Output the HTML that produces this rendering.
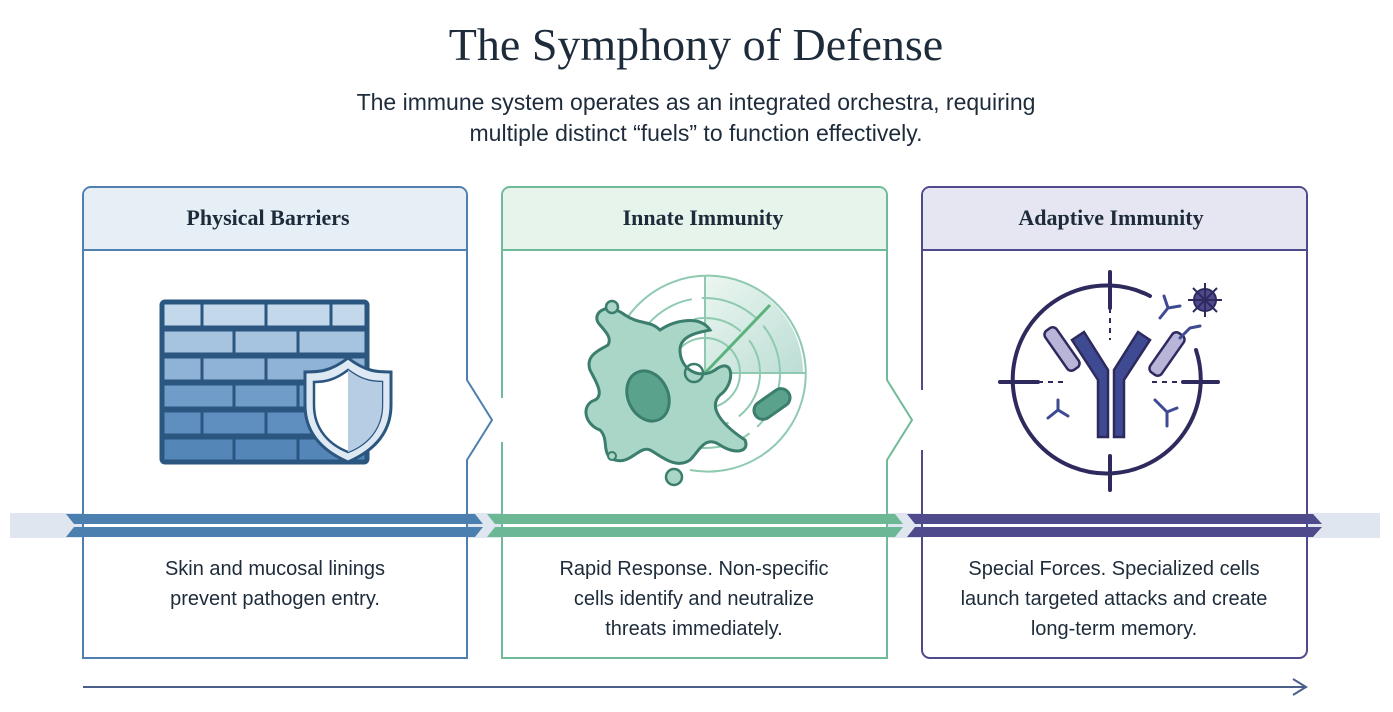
<!DOCTYPE html>
<html><head><meta charset="utf-8"><style>
body{margin:0;width:1393px;height:707px;background:#fff;overflow:hidden;font-family:"Liberation Sans",sans-serif}
</style></head><body>
<svg width="1393" height="707" xmlns="http://www.w3.org/2000/svg">
<text x="696" y="60" text-anchor="middle" font-family="Liberation Serif,serif" font-size="46" fill="#1d2b3a">The Symphony of Defense</text>
<text x="696" y="110" text-anchor="middle" font-size="23" fill="#1d2b3a">The immune system operates as an integrated orchestra, requiring</text>
<text x="696" y="141" text-anchor="middle" font-size="23" fill="#1d2b3a">multiple distinct “fuels” to function effectively.</text>

<!-- band background -->
<rect x="10" y="513" width="1370" height="25" fill="#dfe6ef"/>

<!-- Panel 1 -->
<path d="M83,658 V195 a8,8 0 0 1 8,-8 H459 a8,8 0 0 1 8,8 V380 L492,420 L467,460 V658 Z" fill="#fff" stroke="#4f7fae" stroke-width="2"/>
<path d="M84,250 V195 a7,7 0 0 1 7,-7 H459 a7,7 0 0 1 7,7 V250Z" fill="#e6eef6"/>
<line x1="83" y1="250" x2="467" y2="250" stroke="#4f7fae" stroke-width="2"/>
<text x="268" y="225" text-anchor="middle" font-family="Liberation Serif,serif" font-weight="bold" font-size="22" fill="#1d2b3a">Physical Barriers</text>
<!-- Panel 2 -->
<path d="M502,658 V195 a8,8 0 0 1 8,-8 H879 a8,8 0 0 1 8,8 V380 L912,420 L887,460 V658 Z" fill="#fff" stroke="#6fba98" stroke-width="2"/>
<path d="M503,250 V195 a7,7 0 0 1 7,-7 H879 a7,7 0 0 1 7,7 V250Z" fill="#e6f4ec"/>
<line x1="502" y1="250" x2="887" y2="250" stroke="#6fba98" stroke-width="2"/>
<text x="703" y="225" text-anchor="middle" font-family="Liberation Serif,serif" font-weight="bold" font-size="22" fill="#1d2b3a">Innate Immunity</text>
<line x1="502" y1="380" x2="502" y2="460" stroke="#fff" stroke-width="4"/>
<line x1="502" y1="380" x2="502" y2="398" stroke="#6fba98" stroke-width="2"/>
<line x1="502" y1="442" x2="502" y2="460" stroke="#6fba98" stroke-width="2"/>
<!-- Panel 3 -->
<rect x="922" y="187" width="385" height="471" rx="8" fill="#fff" stroke="#4f4a8c" stroke-width="2"/>
<path d="M923,250 V195 a7,7 0 0 1 7,-7 H1299 a7,7 0 0 1 7,7 V250Z" fill="#e6e5f2"/>
<line x1="922" y1="250" x2="1307" y2="250" stroke="#4f4a8c" stroke-width="2"/>
<text x="1111" y="225" text-anchor="middle" font-family="Liberation Serif,serif" font-weight="bold" font-size="22" fill="#1d2b3a">Adaptive Immunity</text>
<line x1="922" y1="390" x2="922" y2="450" stroke="#fff" stroke-width="4"/>

<!-- band stripes -->
<g>
<polygon points="66,514 475,514 483,524 74,524" fill="#4a7fb0"/>
<polygon points="74,527 483,527 475,537 66,537" fill="#4a7fb0"/>
<polygon points="487,514 895,514 903,524 495,524" fill="#6cb894"/>
<polygon points="495,527 903,527 895,537 487,537" fill="#6cb894"/>
<polygon points="907,514 1313,514 1322,524 915,524" fill="#4f4a8c"/>
<polygon points="915,527 1322,527 1313,537 907,537" fill="#4f4a8c"/>
</g>

<!-- brick wall -->
<g stroke="#2a5680" stroke-width="3">
<rect x="161" y="301" width="207" height="162" rx="4" fill="#5a8dbd"/>
<rect x="163" y="303" width="203" height="24" fill="#c4d8ec"/>
<rect x="163" y="330" width="203" height="24" fill="#a6c3df"/>
<rect x="163" y="357" width="203" height="24" fill="#8fb3d6"/>
<rect x="163" y="384" width="203" height="24" fill="#6f9cc8"/>
<rect x="163" y="411" width="203" height="24" fill="#5f8fbf"/>
<rect x="163" y="438" width="203" height="23" fill="#5586b8"/>
<line x1="161" y1="329" x2="368" y2="329"/><line x1="161" y1="356" x2="368" y2="356"/><line x1="161" y1="383" x2="368" y2="383"/><line x1="161" y1="410" x2="368" y2="410"/><line x1="161" y1="437" x2="368" y2="437"/>
<line x1="202" y1="301" x2="202" y2="329"/><line x1="266" y1="301" x2="266" y2="329"/><line x1="331" y1="301" x2="331" y2="329"/>
<line x1="234" y1="329" x2="234" y2="356"/><line x1="298" y1="329" x2="298" y2="356"/>
<line x1="202" y1="356" x2="202" y2="383"/><line x1="266" y1="356" x2="266" y2="383"/>
<line x1="234" y1="383" x2="234" y2="410"/><line x1="298" y1="383" x2="298" y2="410"/>
<line x1="202" y1="410" x2="202" y2="437"/><line x1="266" y1="410" x2="266" y2="437"/>
<line x1="234" y1="437" x2="234" y2="463"/><line x1="298" y1="437" x2="298" y2="463"/>
</g>
<path d="M348,358 C330,372 318,372 305,372 V405 C305,435 325,452 348,462 C371,452 391,435 391,405 V372 C378,372 366,372 348,358Z" fill="#dfe9f3" stroke="#2a5680" stroke-width="3"/>
<path d="M348,370 C335,380 325,382 314,382 V405 C314,430 330,445 348,452 C366,445 382,430 382,405 V382 C371,382 361,380 348,370Z" fill="#fff" stroke="#2a5680" stroke-width="2.5"/>
<path d="M348,370 C361,380 371,382 382,382 V405 C382,430 366,445 348,452Z" fill="#b7cde4"/>

<!-- radar -->
<defs><linearGradient id="rg" x1="0" y1="0" x2="1" y2="1"><stop offset="0" stop-color="#e4f3ea"/><stop offset="1" stop-color="#9fcfc4"/></linearGradient></defs>
<path d="M705,373 L705,275 A98,98 0 0 1 803,373 Z" fill="url(#rg)" opacity=".7"/>
<g fill="none" stroke="#8fcab0" stroke-width="2">
<path d="M620,330 A98,98 0 1 1 690,470"/>
<circle cx="705" cy="373" r="75" stroke-dasharray="60 10"/>
<circle cx="705" cy="373" r="55" stroke-dasharray="50 12"/>
<circle cx="705" cy="373" r="35"/>
<line x1="705" y1="275" x2="705" y2="373"/><line x1="705" y1="373" x2="805" y2="373"/>
</g>
<line x1="705" y1="373" x2="770" y2="305" stroke="#5cb27c" stroke-width="3"/>
<path d="M600,325 C590,315 605,300 625,315 C640,325 650,320 660,330 C675,320 700,315 710,330 C700,332 680,335 680,350 C680,370 700,380 715,370 C735,355 735,385 720,395 C705,410 730,430 745,440 C750,452 735,455 720,445 C705,435 700,450 690,460 C675,470 660,455 650,450 C640,445 630,465 615,460 C600,455 610,440 600,430 C585,425 580,405 595,400 C605,395 595,380 590,370 C585,355 600,350 608,345 C612,338 606,332 600,325Z" fill="#a9d6c6" stroke="#3b7e6e" stroke-width="3"/>
<ellipse cx="648" cy="396" rx="20" ry="26" transform="rotate(-25 648 396)" fill="#5ba28c" stroke="#3b7e6e" stroke-width="3"/>
<circle cx="694" cy="373" r="9" fill="none" stroke="#3b7e6e" stroke-width="2.5"/>
<rect x="752" y="395" width="40" height="18" rx="9" transform="rotate(-35 772 404)" fill="#5ba28c" stroke="#3b7e6e" stroke-width="3"/>
<circle cx="612" cy="307" r="6" fill="#a9d6c6" stroke="#3b7e6e" stroke-width="2.5"/>
<circle cx="612" cy="456" r="4" fill="#a9d6c6" stroke="#3b7e6e" stroke-width="2"/>
<circle cx="674" cy="477" r="8" fill="#a9d6c6" stroke="#3b7e6e" stroke-width="2.5"/>

<!-- target -->
<g stroke="#2e2a5e" stroke-width="4" fill="none" stroke-linecap="round">
<path d="M1150,296 A94,94 0 1 0 1196,350"/>
<line x1="1110" y1="272" x2="1110" y2="308"/><line x1="1110" y1="456" x2="1110" y2="490"/>
<line x1="1000" y1="382" x2="1038" y2="382"/><line x1="1183" y1="382" x2="1218" y2="382"/>
</g>
<g stroke="#2e2a5e" stroke-width="2" stroke-dasharray="5 5"><line x1="1110" y1="308" x2="1110" y2="340"/><line x1="1038" y1="382" x2="1068" y2="382"/><line x1="1152" y1="382" x2="1183" y2="382"/></g>
<g stroke="#2e2a5e" stroke-width="2.5">
<path d="M1098,437 V380 L1072,340 L1084,332 L1108,370 V437Z" fill="#3e4a92"/>
<path d="M1114,437 V370 L1138,332 L1150,340 L1124,380 V437Z" fill="#3e4a92"/>
<rect x="1055" y="325" width="14" height="48" rx="5" transform="rotate(-35 1062 349)" fill="#b8b5d8"/>
<rect x="1160" y="330" width="14" height="48" rx="5" transform="rotate(35 1167 354)" fill="#b8b5d8"/>
</g>
<circle cx="1205" cy="300" r="11" fill="#4f4a8c" stroke="#2e2a5e" stroke-width="2"/>
<g stroke="#2e2a5e" stroke-width="2"><line x1="1205" y1="283" x2="1205" y2="317"/><line x1="1188" y1="300" x2="1222" y2="300"/><line x1="1193" y1="288" x2="1217" y2="312"/><line x1="1217" y1="288" x2="1193" y2="312"/></g>
<g stroke="#3e4a92" stroke-width="3" fill="none" stroke-linecap="round">
<path d="M1048,418 l10,-8 l10,6 M1058,410 v-10"/><path d="M1155,400 l12,12 l10,-4 M1167,412 v14"/>
<path d="M1160,318 l8,-10 l12,-2 M1168,308 l-4,-12"/><path d="M1180,338 l10,-10 l10,-2"/>
</g>

<!-- descriptions -->
<g font-size="20" fill="#1d2b3a" text-anchor="middle">
<text x="275" y="575">Skin and mucosal linings</text>
<text x="275" y="605">prevent pathogen entry.</text>
<text x="694" y="575">Rapid Response. Non-specific</text>
<text x="694" y="605">cells identify and neutralize</text>
<text x="694" y="635">threats immediately.</text>
<text x="1114" y="575">Special Forces. Specialized cells</text>
<text x="1114" y="605">launch targeted attacks and create</text>
<text x="1114" y="635">long-term memory.</text>
</g>
<line x1="83" y1="687" x2="1305" y2="687" stroke="#4a5f8a" stroke-width="2"/>
<polyline points="1293,679 1306,687 1293,695" fill="none" stroke="#4a5f8a" stroke-width="2"/>
</svg>
</body></html>
